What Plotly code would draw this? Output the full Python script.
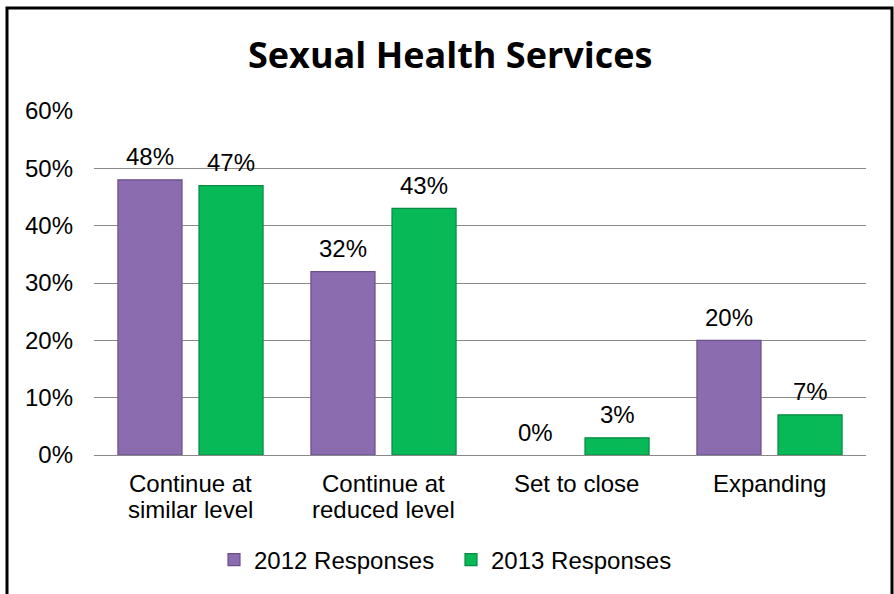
import plotly.graph_objects as go

# Survey responses by category
categories = ["Continue at similar level", "Continue at reduced level", "Set to close", "Expanding"]
category_lines = [["Continue at", "similar level"], ["Continue at", "reduced level"], ["Set to close"], ["Expanding"]]
responses_2012 = [48, 32, 0, 20]
responses_2013 = [47, 43, 3, 7]
series_names = ["2012 Responses", "2013 Responses"]
y_ticks = [0, 10, 20, 30, 40, 50, 60]

W, H = 894, 594
M_L, M_R, M_T, M_B = 94, 28, 111, 139
PW, PH = W - M_L - M_R, H - M_T - M_B

PURPLE = "#8A6CAF"
PURPLE_EDGE = "#6A4F8C"
GREEN = "#08B958"
GREEN_EDGE = "#078A42"
TEXT_FONT = dict(family="Liberation Sans, Arial, sans-serif", size=24, color="#000000")

BAR_W = 0.332
OFFSETS = [-0.376, 0.044]
SHIFT_PX = (BAR_W / 2 + OFFSETS[1]) * (PW / len(categories))


def px_x(px):
    return (px - M_L) / PW


def px_y(py):
    return (H - M_B - py) / PH


fig = go.Figure()
for name, vals, color, edge, off in [
    (series_names[0], responses_2012, PURPLE, PURPLE_EDGE, OFFSETS[0]),
    (series_names[1], responses_2013, GREEN, GREEN_EDGE, OFFSETS[1]),
]:
    fig.add_trace(go.Bar(
        x=categories, y=[v / 100 for v in vals], name=name,
        width=BAR_W, offset=off,
        marker=dict(color=color, line=dict(color=edge, width=[1.2 if v > 0 else 0 for v in vals])),
        hoverinfo="skip",
    ))

annotations = []

# Value labels above each bar
for vals, sign in [(responses_2012, -1), (responses_2013, 1)]:
    for cat, v in zip(categories, vals):
        annotations.append(dict(
            x=cat, y=v / 100, xref="x", yref="y",
            text=f"{v}%", showarrow=False, font=TEXT_FONT,
            xanchor="center", yanchor="middle",
            xshift=sign * SHIFT_PX, yshift=23,
        ))

# Category labels, one annotation per line
for cat, lines in zip(categories, category_lines):
    for i, line in enumerate(lines):
        annotations.append(dict(
            x=cat, y=0, xref="x", yref="y",
            text=line, showarrow=False, font=TEXT_FONT,
            xanchor="center", yanchor="middle",
            yshift=-28 - 26 * i,
        ))

# Chart title
annotations.append(dict(
    x=px_x(450), y=px_y(55), xref="paper", yref="paper",
    text="<b>Sexual Health Services</b>", showarrow=False,
    font=dict(family="'Open Sans', Lato, sans-serif", size=36, color="#000000"),
    xanchor="center", yanchor="middle",
))

# Outer frame
frame = dict(
    type="rect", xref="paper", yref="paper", layer="above",
    x0=px_x(7), x1=px_x(892), y0=px_y(610), y1=px_y(8),
    line=dict(color="#000000", width=3), fillcolor="rgba(0,0,0,0)",
)

fig.update_layout(
    width=W, height=H,
    margin=dict(l=M_L, r=M_R, t=M_T, b=M_B, pad=0),
    paper_bgcolor="#FFFFFF", plot_bgcolor="#FFFFFF",
    barmode="overlay",
    showlegend=True,
    legend=dict(
        orientation="h", x=px_x(214), xanchor="left",
        y=px_y(560), yanchor="middle",
        font=TEXT_FONT, itemwidth=30, traceorder="normal",
        entrywidth=192, entrywidthmode="pixels",
    ),
    annotations=annotations,
    shapes=[frame],
    xaxis=dict(
        type="category", categoryorder="array", categoryarray=categories,
        showticklabels=False, showgrid=False, showline=True,
        linecolor="#898989", linewidth=1, ticks="", zeroline=False, fixedrange=True,
    ),
    yaxis=dict(
        range=[0, 0.6], tickmode="array", tickvals=[t / 100 for t in y_ticks],
        ticktext=[f"{t}%" for t in y_ticks], tickfont=TEXT_FONT,
        showgrid=True, gridcolor="#898989", gridwidth=1,
        showline=False, zeroline=False, ticks="", ticklabelstandoff=20,
        fixedrange=True,
    ),
)

fig.write_html("out.html")
